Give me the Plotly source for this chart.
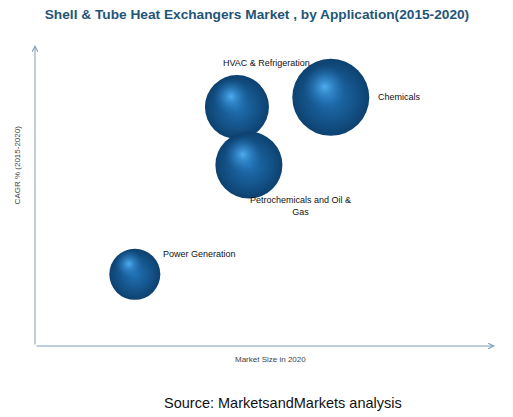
import plotly.graph_objects as go

applications = ["HVAC & Refrigeration", "Chemicals", "Petrochemicals and Oil &<br>Gas", "Power Generation"]
market_size = [43.9, 64.3, 46.5, 21.7]
cagr = [79.4, 82.6, 60.1, 23.8]
bubble_size = [64, 77, 67, 51]

label_pos = [  # (xshift, yshift, xanchor) relative to bubble centre, in px
    (-16, 44, "left"),
    (45, 0, "left"),
    (52, -41, "center"),
    (26, 20, "left"),
]

fig = go.Figure()

# base sphere
fig.add_trace(go.Scatter(
    x=market_size, y=cagr, mode="markers", hoverinfo="skip",
    marker=dict(size=bubble_size, sizemode="diameter", sizeref=1, opacity=1,
                color="#0d416f", line=dict(width=0),
                gradient=dict(type="radial", color="#2173b6")),
))
# highlight layer, offset up-left via shifted overlay axes
fig.add_trace(go.Scatter(
    x=market_size, y=cagr, mode="markers", hoverinfo="skip",
    xaxis="x2", yaxis="y2",
    marker=dict(size=[s * 0.55 for s in bubble_size], sizemode="diameter", sizeref=1, opacity=1,
                color="rgba(35,115,185,0)", line=dict(width=0),
                gradient=dict(type="radial", color="rgba(80,178,245,0.95)")),
))

for name, xv, yv, (dx, dy, xa) in zip(applications, market_size, cagr, label_pos):
    fig.add_annotation(x=xv, y=yv, text=name, showarrow=False, xshift=dx, yshift=dy,
                       xanchor=xa, yanchor="middle", align="center",
                       font=dict(family="Liberation Sans, Arial", size=9, color="#111111"))

axis_common = dict(showgrid=False, zeroline=False, showticklabels=False, ticks="")
fig.update_layout(
    width=505, height=409,
    margin=dict(l=27, r=18, t=37, b=71),
    paper_bgcolor="white", plot_bgcolor="white",
    showlegend=False,
    xaxis=dict(range=[0, 100], **axis_common),
    yaxis=dict(range=[0, 100], **axis_common),
    xaxis2=dict(range=[1.3, 101.3], overlaying="x", visible=False),
    yaxis2=dict(range=[-3.5, 96.5], overlaying="y", visible=False),
    title=dict(text="<b>Shell & Tube Heat Exchangers Market , by Application(2015-2020)</b>",
               x=0.493, xanchor="center", y=0.985, yanchor="middle",
               font=dict(family="Liberation Sans, Arial", size=13.7, color="#1f5577")),
)

# axes with arrows
fig.add_annotation(xref="paper", yref="paper", x=0, y=1.0, ax=0, ay=301,
                   showarrow=True, arrowhead=5, arrowsize=1.1,
                   arrowwidth=1, arrowcolor="#7c9cba", text="")
fig.add_annotation(xref="paper", yref="paper", x=1.0, y=0, ax=-460, ay=0,
                   showarrow=True, arrowhead=5, arrowsize=1.1,
                   arrowwidth=1, arrowcolor="#7c9cba", text="")

fig.add_annotation(xref="paper", yref="paper", x=0.511, y=0, yshift=-13, text="Market Size in 2020",
                   showarrow=False, xanchor="center", yanchor="middle",
                   font=dict(family="Liberation Sans, Arial", size=8, color="#444444"))
fig.add_annotation(xref="paper", yref="paper", x=0, xshift=-18, y=0.6, text="CAGR % (2015-2020)",
                   showarrow=False, textangle=-90, xanchor="center", yanchor="middle",
                   font=dict(family="Liberation Sans, Arial", size=8, color="#444444"))
fig.add_annotation(xref="paper", yref="paper", x=0.539, y=0, yshift=-57, text="Source: MarketsandMarkets analysis",
                   showarrow=False, xanchor="center", yanchor="middle",
                   font=dict(family="Liberation Sans, Arial", size=14.5, color="#111111"))

fig.write_html("out.html")
